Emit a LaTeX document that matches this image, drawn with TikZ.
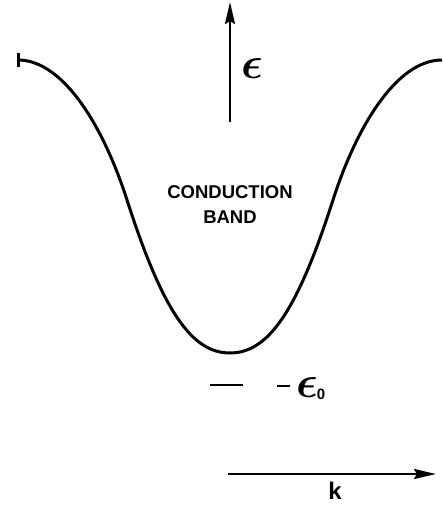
\documentclass[tikz,border=0pt]{standalone}
\usepackage{graphicx}
\usepackage{bm}
\usepackage{fontspec}
\setmainfont{Liberation Sans}
\usetikzlibrary{arrows.meta}
\newcommand{\bigeps}{\scalebox{2.6}{$\bm{\epsilon}$}}
\begin{document}
\begin{tikzpicture}[x=1pt,y=-1pt,
  curve/.style={line width=3pt,line cap=butt,line join=round},
  axis/.style={line width=2.6pt,-{Stealth[length=22pt,width=10pt,inset=3pt]}},
  lbl/.style={font=\fontsize{18.5}{25}\selectfont\bfseries,align=center,inner sep=0pt}]
\useasboundingbox (0,0) rectangle (442,506);
% band curve
\coordinate (tickT) at (18,53);
\coordinate (tickB) at (18,67);
\coordinate (cL) at (18,60);
\coordinate (iL) at (127,200);
\coordinate (bot) at (230,353);
\coordinate (iR) at (333,200);
\coordinate (cR) at (442,60);
\draw[curve] (cL) .. controls (65,60) and (105,131) .. (iL)
  .. controls (163,312) and (192,353) .. (bot)
  .. controls (268,353) and (297,312) .. (iR)
  .. controls (355,131) and (395,60) .. (cR);
\draw[line width=3pt] (tickT) -- (tickB);
% energy axis
\coordinate (eb) at (230,122);
\coordinate (et) at (230,2);
\draw[axis] (eb) -- (et);
\node[lbl] (eps) at (252,69) {\bigeps};
% label
\node[lbl] (cb) at (230,205) {CONDUCTION\\BAND};
% bound level
\coordinate (l1) at (210,385);
\coordinate (l2) at (243,385);
\draw[line width=2.6pt] (l1) -- (l2);
\coordinate (d1) at (277,386);
\coordinate (d2) at (290,386);
\draw[line width=2.6pt] (d1) -- (d2);
\node[lbl] (e0) at (307,388) {\bigeps};
\node[lbl,font=\fontsize{15}{18}\selectfont\bfseries] (sub0) at (321,394) {0};
% k axis
\coordinate (kb) at (228,474);
\coordinate (kt) at (436,474);
\draw[axis] (kb) -- (kt);
\node[lbl,font=\fontsize{24}{26}\selectfont\bfseries] (k) at (335,491) {k};
\end{tikzpicture}
\end{document}
